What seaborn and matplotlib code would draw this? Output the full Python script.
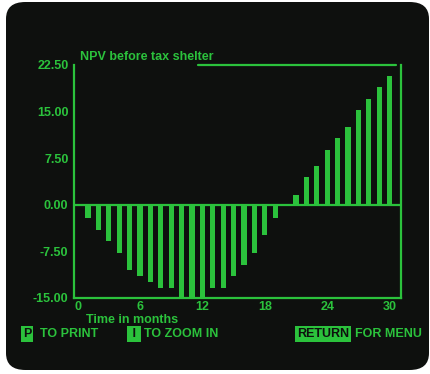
import matplotlib
matplotlib.use("Agg")
import matplotlib.pyplot as plt
from matplotlib.patches import FancyBboxPatch
import seaborn as sns

# ---- data ----
months = list(range(1, 31))
npv = [-2.1, -4.1, -5.9, -7.7, -10.5, -11.5, -12.4, -13.4, -13.4, -15.0,
       -15.0, -15.0, -13.4, -13.4, -11.5, -9.7, -7.8, -4.9, -2.2, 0.0,
       1.6, 4.5, 6.2, 8.9, 10.7, 12.6, 15.3, 17.1, 19.0, 20.7]
y_ticks = [-15.0, -7.5, 0.0, 7.5, 15.0, 22.5]
x_ticks = [0, 6, 12, 18, 24, 30]

GREEN = "#2bc23c"
SCREEN = "#0e100e"
FONT = "Liberation Sans"
FS = 9

sns.set_theme(style="dark")
plt.rcParams["font.family"] = [FONT, "DejaVu Sans"]

fig = plt.figure(figsize=(4.31, 3.74), dpi=100)
fig.patch.set_facecolor("white")

# CRT screen
screen = FancyBboxPatch((6 / 431, 4 / 374), 423 / 431, 368 / 374,
                        boxstyle="round,pad=0,rounding_size=0.045",
                        transform=fig.transFigure, facecolor=SCREEN,
                        edgecolor="none", zorder=-5)
fig.patches.append(screen)

ax = fig.add_axes([74 / 431, 1 - 298 / 374, 327 / 431, 233 / 374])
ax.set_zorder(2)
ax.set_facecolor("none")

sns.barplot(x=months, y=npv, native_scale=True, width=0.5, color=GREEN,
            saturation=1, linewidth=0, edgecolor=GREEN, ax=ax, zorder=3)

ax.axhline(0, color=GREEN, lw=1.6, zorder=4)
ax.set_xlim(-0.35, 31.1)
ax.set_ylim(-15, 22.5)

for side in ["left", "bottom", "right"]:
    ax.spines[side].set_visible(True)
    ax.spines[side].set_color(GREEN)
    ax.spines[side].set_linewidth(1.6)
ax.spines["top"].set_visible(False)
# top border only runs to the right of the title
ax.plot([0.38, 0.985], [1.0, 1.0], transform=ax.transAxes, color=GREEN,
        lw=1.6, clip_on=False)
ax.grid(False)

ax.set_yticks(y_ticks)
ax.set_yticklabels([f"{v:.2f}" for v in y_ticks])
ax.set_xticks(x_ticks)
ax.tick_params(axis="y", direction="in", length=3, width=1, color=GREEN,
               pad=4, labelsize=FS, labelcolor=GREEN)
ax.tick_params(axis="x", length=0, pad=2, labelsize=FS, labelcolor=GREEN)
for lab in ax.get_xticklabels() + ax.get_yticklabels():
    lab.set_fontweight("bold")

ax.set_xlabel("")
ax.set_ylabel("")
fig.text(86 / 431, 1 - 320 / 374, "Time in months", color=GREEN,
         fontsize=FS, fontweight="bold", va="center", ha="left")
fig.text(80 / 431, 1 - 57 / 374, "NPV before tax shelter", color=GREEN,
         fontsize=FS, fontweight="bold", va="center", ha="left")

# key hints along the bottom of the screen
row_y = 1 - 334 / 374
key_box = dict(boxstyle="square,pad=0.15", facecolor=GREEN, edgecolor="none")
fig.text(23 / 431, row_y, "P", color=SCREEN, fontsize=FS, fontweight="bold",
         va="center", ha="left", bbox=key_box)
fig.text(40 / 431, row_y, "TO PRINT", color=GREEN, fontsize=FS,
         fontweight="bold", va="center", ha="left")
fig.text(129 / 431, row_y, " I ", color=SCREEN, fontsize=FS, fontweight="bold",
         va="center", ha="left", bbox=key_box)
fig.text(144 / 431, row_y, "TO ZOOM IN", color=GREEN, fontsize=FS,
         fontweight="bold", va="center", ha="left")
fig.text(297 / 431, row_y, "RETURN", color=SCREEN, fontsize=FS,
         fontweight="bold", va="center", ha="left", bbox=key_box)
fig.text(355 / 431, row_y, "FOR MENU", color=GREEN, fontsize=FS,
         fontweight="bold", va="center", ha="left")

fig.savefig("out.png", dpi=100, facecolor=fig.get_facecolor())
